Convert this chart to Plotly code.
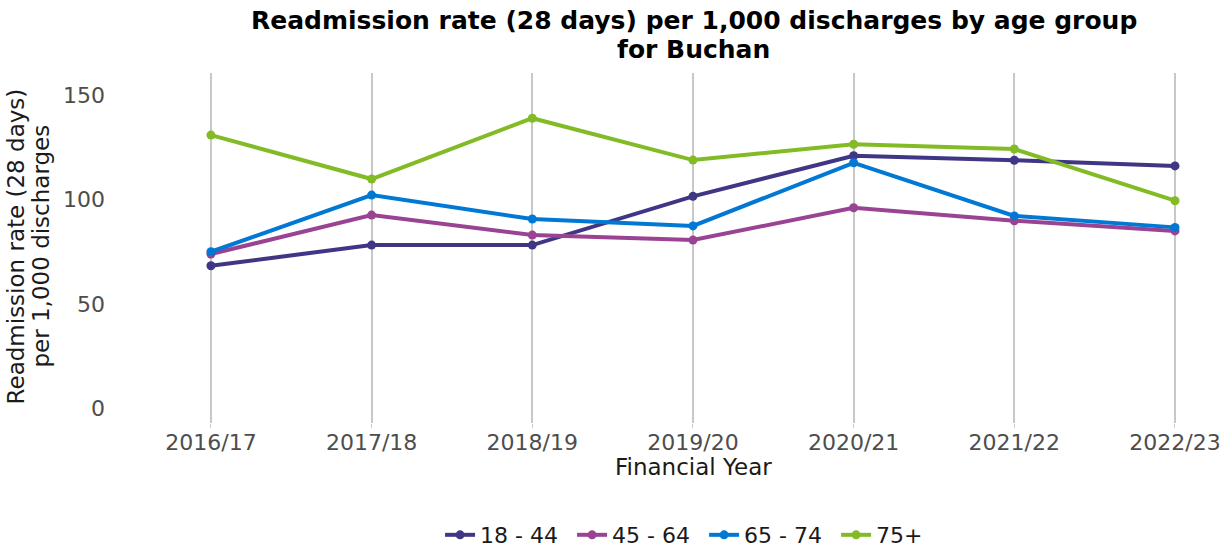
import plotly.graph_objects as go

# Financial years and 28-day readmission rates per 1,000 discharges (Buchan)
years = ["2016/17", "2017/18", "2018/19", "2019/20", "2020/21", "2021/22", "2022/23"]
age_18_44 = [68.3, 78.2, 78.2, 101.6, 121.1, 118.9, 116.2]
age_45_64 = [73.9, 92.6, 83.0, 80.6, 96.1, 89.9, 85.0]
age_65_74 = [75.0, 102.2, 90.7, 87.4, 117.7, 92.2, 86.7]
age_75_plus = [131.0, 109.9, 139.1, 119.0, 126.6, 124.3, 99.5]

series = [
    ("18 - 44", age_18_44, "#3F3685"),
    ("45 - 64", age_45_64, "#9B4393"),
    ("65 - 74", age_65_74, "#0078D4"),
    ("75+", age_75_plus, "#83BB26"),
]

FONT = "DejaVu Sans"
DARK = "#1a1a1a"

fig = go.Figure()
for name, vals, colour in series:
    fig.add_trace(go.Scatter(
        x=list(range(len(years))), y=vals, name=name, mode="lines+markers",
        line=dict(color=colour, width=4),
        marker=dict(color=colour, size=9),
    ))


def text_note(text, x, y, size, color=DARK, angle=0):
    return dict(text=text, textangle=angle, xref="paper", yref="paper",
                x=x, y=y, xanchor="center", yanchor="middle", showarrow=False,
                font=dict(family=FONT, size=size, color=color))


fig.update_layout(
    width=1225, height=547,
    margin=dict(l=120, r=10, t=73, b=124),
    paper_bgcolor="white", plot_bgcolor="white",
    font=dict(family=FONT, size=22, color="#4d4d4d"),
    showlegend=True,
    legend=dict(orientation="h", x=0.5334, xanchor="center",
                yref="container", y=0.0219, yanchor="middle",
                itemwidth=30, entrywidth=87, font=dict(size=22, color=DARK)),
    xaxis=dict(
        tickmode="array", tickvals=list(range(len(years))), ticktext=years,
        range=[-0.566, 6.249], automargin=False,
        showgrid=True, gridcolor="#c8c8c8", gridwidth=2,
        zeroline=False, showline=False,
        ticks="outside", ticklen=4, tickcolor="#c8c8c8",
        ticklabelstandoff=-4,
        tickfont=dict(size=22),
    ),
    yaxis=dict(
        range=[-7.2, 160.8], automargin=False,
        tickvals=[0, 50, 100, 150],
        showgrid=False, zeroline=False, showline=False,
        ticks="", ticklabelstandoff=14,
        tickfont=dict(size=22),
    ),
    annotations=[
        text_note("<b>Readmission rate (28 days) per 1,000 discharges by age group</b>",
                  0.5242, 1.1514, 25, color="black"),
        text_note("<b>for Buchan</b>", 0.5242, 1.0671, 25, color="black"),
        text_note("Readmission rate (28 days)", -0.0941, 0.5043, 23, angle=-90),
        text_note("per 1,000 discharges", -0.0721, 0.5043, 23, angle=-90),
        text_note("Financial Year", 0.5233, -0.1257, 23),
    ],
)

fig.write_html("out.html")
